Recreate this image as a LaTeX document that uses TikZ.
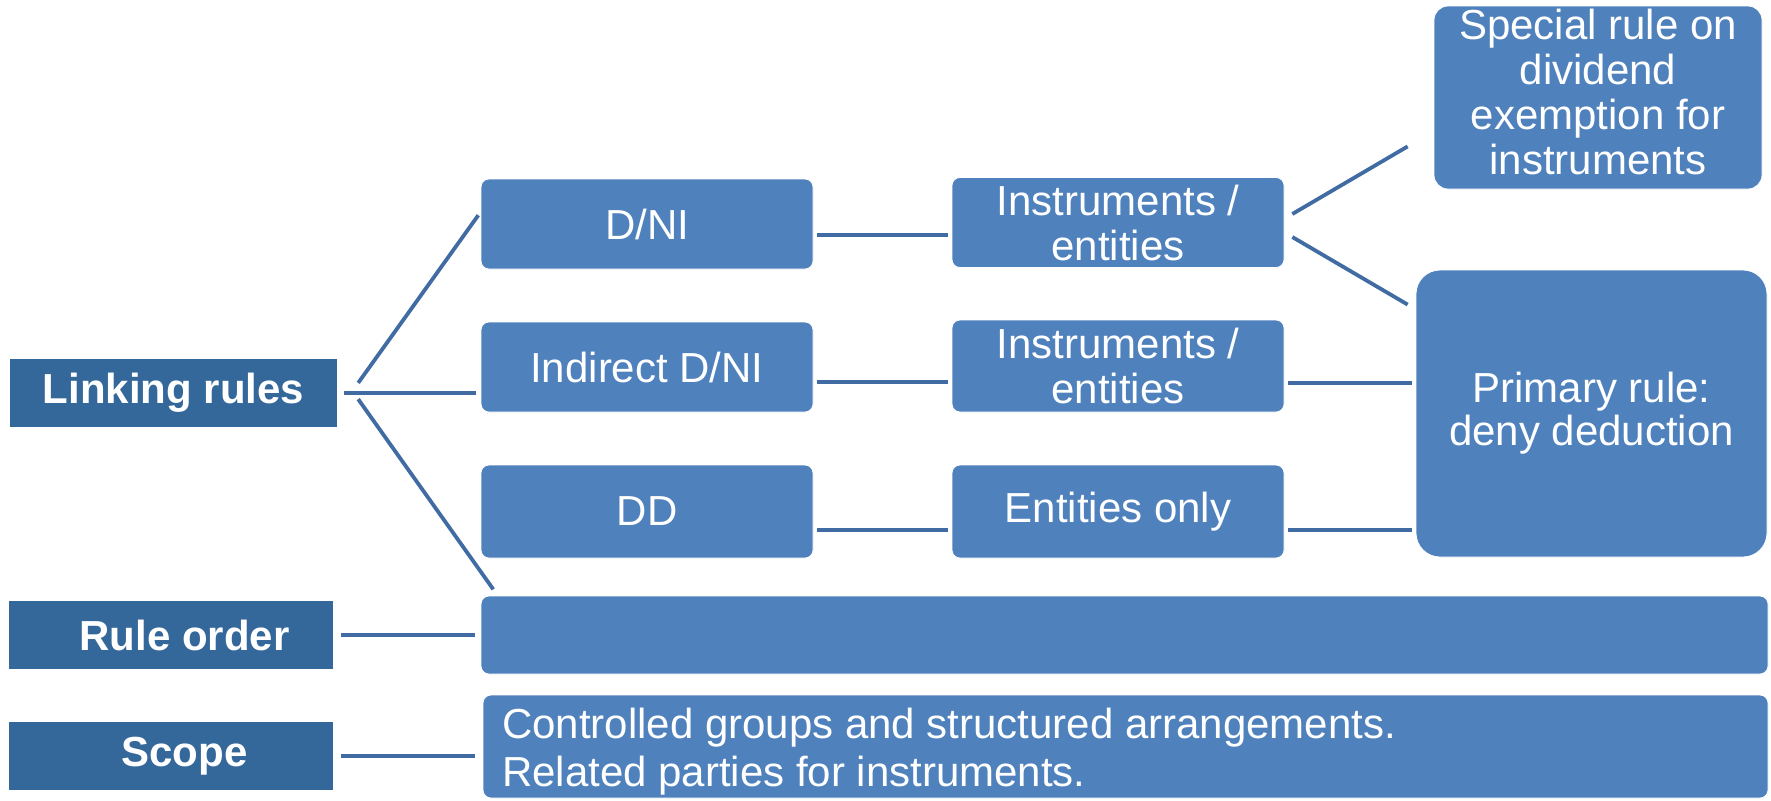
\documentclass[tikz,border=0pt]{standalone}
\usepackage{fontspec}
\setmainfont{Liberation Sans}
\usetikzlibrary{calc}
\definecolor{headblue}{HTML}{35689A}
\definecolor{boxblue}{HTML}{4F81BD}
\definecolor{lineblue}{HTML}{416CA3}
\begin{document}
\begin{tikzpicture}[x=0.5pt,y=-0.5pt,line join=round,
    font=\fontsize{21}{22.5}\selectfont,
    head/.style={fill=headblue,text=white,font=\fontsize{21}{22.5}\selectfont\bfseries,
        minimum width=162pt,minimum height=34pt,inner sep=0pt},
    item/.style={fill=boxblue,draw=white,line width=0.4pt,text=white,rounded corners=4pt,
        minimum width=166pt,minimum height=45pt,inner sep=0pt,align=center},
    conn/.style={draw=lineblue,line width=1.9pt,shorten <=2pt,shorten >=2pt}]
    \useasboundingbox (0,0) rectangle (1771,800);
    \node[head,minimum width=163.5pt] (link) at (173.5,393) {Linking rules};
    \node[head] (order) at (170.5,635) {\hspace*{14pt}Rule order};
    \node[head] (scope) at (170.5,756) {\hspace*{14pt}Scope};
    \node[item] (dni) at (647,224) {D/NI};
    \node[item] (idni) at (647,367) {Indirect D/NI};
    \node[item,minimum height=46.5pt] (dd) at (647,511.5) {DD};
    \node[item] (inst1) at (1118,222.5) {Instruments /\\entities};
    \node[item,minimum height=46pt] (inst2) at (1118,366) {Instruments /\\entities};
    \node[item,minimum height=46.5pt] (ent) at (1118,511.5) {Entities only};
    \node[item,rounded corners=7pt,minimum width=164pt,minimum height=91.5pt] (special) at (1598,97.5) {};
    \node[text=white,align=center,inner sep=0pt] (specialtext) at ($(special.center)+(0,-6)$)
        {Special rule on\\dividend\\exemption for\\instruments};
    \node[item,rounded corners=12pt,minimum width=175.5pt,minimum height=143.5pt,font=\fontsize{21}{21.5}\selectfont] (primary) at (1591.5,413.5)
        {Primary rule:\\deny deduction};
    \node[item,minimum width=643.5pt,minimum height=39pt] (orderbox) at (1124.5,635) {};
    \node[item,minimum width=642.5pt,minimum height=51.5pt] (scopebox) at (1125.5,746.5) {};
    \node[anchor=north west,inner sep=0pt,text=white,align=left,font=\fontsize{21}{24}\selectfont] (scopetext)
        at ($(scopebox.north west)+(19,13)$)
        {Controlled groups and structured arrangements.\\Related parties for instruments.};
    \coordinate (hub) at ($(link.east)+(15,-2)$);
    \draw[conn,shorten <=3.5pt,shorten >=2.5pt] (link.east) -- (link.east -| idni.west);
    \draw[conn,shorten <=5pt] (hub) -- ($(dni.west)+(0,-12)$);
    \draw[conn,shorten <=5pt] (hub) -- ($(orderbox.north west)+(15,-3)$);
    \draw[conn,shorten <=4pt,shorten >=3pt] (order.east) -- (order.east -| orderbox.west);
    \draw[conn,shorten <=4pt,shorten >=4pt] (scope.east) -- (scope.east -| scopebox.west);
    \foreach \a/\b/\d in {dni/inst1/11,idni/inst2/15,dd/ent/18.5,inst2/primary/17,ent/primary/18.5}
        \draw[conn] ($(\a.east)+(0,\d)$) coordinate (s) -- (s -| \b.west);
    \draw[conn] ($(inst1.east)+(4.5,-6.5)$) -- ($(special.south west)+(-22.5,-45)$);
    \draw[conn] ($(inst1.east)+(4.5,12.5)$) -- ($(primary.north west)+(-4.5,37)$);
\end{tikzpicture}
\end{document}
